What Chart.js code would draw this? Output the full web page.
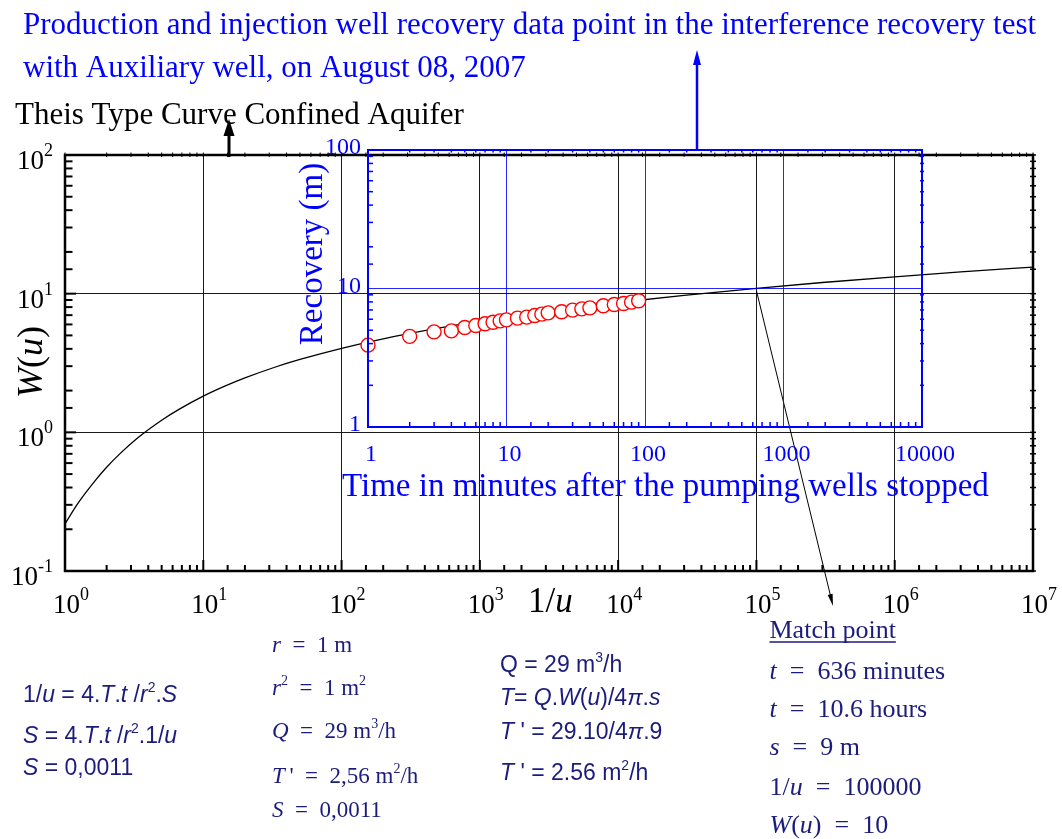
<!DOCTYPE html>
<html>
<head>
<meta charset="utf-8">
<title>Theis type curve match</title>
<script src="https://cdn.jsdelivr.net/npm/chart.js@4.4.0/dist/chart.umd.min.js"></script>
<style>
  html, body { margin: 0; padding: 0; background: #fff; }
  #wrap { position: relative; width: 1062px; height: 839px; }
  #wrap canvas { position: absolute; left: 0; top: 0; }
</style>
</head>
<body>
<div id="wrap">
  <canvas id="theis" width="1062" height="839"></canvas>
  <canvas id="recovery" width="1062" height="839"></canvas>
</div>
<script>
// Theis well function W(u) against 1/u
const invU = [1, 1.25, 1.67, 2, 2.5, 3.33, 5, 6.67, 10, 14.3, 20, 33.3, 50, 100, 200, 500,
              1000, 2000, 5000, 1e4, 3e4, 1e5, 3e5, 1e6, 3e6, 1e7];
const wu = [0.219, 0.311, 0.454, 0.560, 0.702, 0.906, 1.223, 1.464, 1.823, 2.151, 2.468, 2.959,
            3.355, 4.038, 4.726, 5.639, 6.332, 7.024, 7.940, 8.633, 9.732, 10.936, 12.035,
            13.238, 14.337, 15.541];

// recovery readings, minutes after the pumping wells stopped
const minutes = [1, 2, 3, 4, 5, 6, 7, 8, 9, 10, 12, 14, 16, 18, 20, 25, 30, 35, 40, 50, 60, 70, 80, 90];
const recovery = [3.90, 4.51, 4.86, 4.94, 5.23, 5.41, 5.56, 5.71, 5.84, 5.94, 6.11, 6.21, 6.39, 6.53,
                  6.67, 6.79, 6.98, 7.13, 7.25, 7.50, 7.67, 7.80, 7.97, 8.15];

const invUTicks = [1, 10, 100, 1e3, 1e4, 1e5, 1e6, 1e7];
const wuTicks = [0.1, 1, 10, 100];
const minuteTicks = [1, 10, 100, 1000, 10000];
const recoveryTicks = [1, 10, 100];
const matchPoint = { invU: 1e5, wu: 10 };

const titleLines = [
  'Production and injection well recovery data point in the interference recovery test',
  'with Auxiliary well, on August 08, 2007'
];
const curveTitle = 'Theis Type Curve Confined Aquifer';
const insetXTitle = 'Time in minutes after the pumping wells stopped';
const insetYTitle = 'Recovery (m)';

// *..* = italic, ^..^ = superscript
const formulaNotes = ['1/*u* = 4.*T*.*t* /*r*^2^.*S*', '*S* = 4.*T*.*t* /*r*^2^.1/*u*', '*S* = 0,0011'];
const inputNotes = ['*r*\u2002=\u20021 m', '*r*^2^\u2002=\u20021 m^2^', '*Q*\u2002=\u200229 m^3^/h',
                    '*T*\u2009\'\u2002=\u20022,56 m^2^/h', '*S*\u2002=\u20020,0011'];
const transNotes = ['Q = 29 m^3^/h', '*T*= *Q*.*W*(*u*)/4*\u03c0*.*s*', '*T* \' = 29.10/4*\u03c0*.9',
                    '*T* \' = 2.56 m^2^/h'];
const matchNotes = ['*t*\u2002=\u2002636 minutes', '*t*\u2002=\u200210.6 hours', '*s*\u2002=\u20029 m',
                    '1/*u*\u2002=\u2002100000', '*W*(*u*)\u2002=\u200210'];

const SERIF = '"Liberation Serif", "Times New Roman", serif';
const SANS = '"Liberation Sans", Arial, sans-serif';
const NAVY = '#1c1c7c';
const BLUE = '#0000ff';

function isDecade(v) {
  const l = Math.log10(v);
  return Math.abs(l - Math.round(l)) < 1e-9;
}

function seg(ctx, x0, y0, x1, y1, w) {
  ctx.lineWidth = w;
  ctx.beginPath();
  ctx.moveTo(x0, y0);
  ctx.lineTo(x1, y1);
  ctx.stroke();
}

function arrow(ctx, x0, y0, x1, y1, w, headLen, headW, color) {
  const a = Math.atan2(y1 - y0, x1 - x0);
  ctx.save();
  ctx.strokeStyle = color;
  ctx.fillStyle = color;
  seg(ctx, x0, y0, x1 - Math.cos(a) * headLen * 0.7, y1 - Math.sin(a) * headLen * 0.7, w);
  ctx.translate(x1, y1);
  ctx.rotate(a);
  ctx.beginPath();
  ctx.moveTo(0, 0);
  ctx.lineTo(-headLen, headW / 2);
  ctx.lineTo(-headLen, -headW / 2);
  ctx.closePath();
  ctx.fill();
  ctx.restore();
}

function parse(str) {
  const parts = [];
  let cur = '', it = false, sup = false;
  for (const ch of str) {
    if (ch === '*' || ch === '^') {
      if (cur) parts.push({ t: cur, i: it, sup });
      cur = '';
      if (ch === '*') it = !it; else sup = !sup;
    } else cur += ch;
  }
  if (cur) parts.push({ t: cur, i: it, sup });
  return parts;
}

function drawRich(ctx, x, y, str, size, family) {
  let cx = x;
  for (const p of parse(str)) {
    const s = p.sup ? Math.round(size * 0.62) : size;
    ctx.font = (p.i ? 'italic ' : '') + s + 'px ' + family;
    ctx.fillText(p.t, cx, p.sup ? y - size * 0.42 : y);
    cx += ctx.measureText(p.t).width;
  }
  return cx - x;
}

// "10" with a raised exponent
function drawPow(ctx, x, y, exp, align) {
  ctx.font = '27px ' + SERIF;
  const wBase = ctx.measureText('10').width;
  ctx.font = '18px ' + SERIF;
  const wExp = ctx.measureText(String(exp)).width;
  const x0 = align === 'right' ? x - wBase - wExp : x;
  ctx.textAlign = 'left';
  ctx.font = '27px ' + SERIF;
  ctx.fillText('10', x0, y);
  ctx.font = '18px ' + SERIF;
  ctx.fillText(String(exp), x0 + wBase, y - 13);
}

const theisDecor = {
  id: 'theisDecor',
  afterDraw(chart) {
    const { ctx, chartArea: a, scales: { x, y } } = chart;
    ctx.save();
    ctx.strokeStyle = '#000';
    ctx.fillStyle = '#000';

    // tick marks on all four sides
    for (const t of x.ticks) {
      const px = x.getPixelForValue(t.value);
      seg(ctx, px, a.bottom, px, a.bottom - (isDecade(t.value) ? 11 : 6), 2);
      seg(ctx, px, a.top - 2.5, px, a.top + 2, 1);
    }
    for (const t of y.ticks) {
      const py = y.getPixelForValue(t.value);
      seg(ctx, a.left, py, a.left + (isDecade(t.value) ? 11 : 7.5), py, 2);
      seg(ctx, a.right - 3, py, a.right + 3, py, 1.5);
    }
    ctx.lineWidth = 2.5;
    ctx.strokeRect(a.left, a.top, a.right - a.left, a.bottom - a.top);

    // tick labels
    ctx.textBaseline = 'alphabetic';
    for (const v of invUTicks) {
      drawPow(ctx, x.getPixelForValue(v) - 12, a.bottom + 42, Math.round(Math.log10(v)), 'left');
    }
    for (const v of wuTicks) {
      drawPow(ctx, a.left - 12, y.getPixelForValue(v) + 14, Math.round(Math.log10(v)), 'right');
    }

    // axis titles
    ctx.textAlign = 'left';
    ctx.font = '35px ' + SERIF;
    ctx.fillText('1/', 528, 612);
    const w1 = ctx.measureText('1/').width;
    ctx.font = 'italic 35px ' + SERIF;
    ctx.fillText('u', 528 + w1, 612);

    ctx.save();
    ctx.translate(42, 362);
    ctx.rotate(-Math.PI / 2);
    const parts = [['W', true], ['(', false], ['u', true], [')', false]];
    let tw = 0;
    for (const [s, it] of parts) {
      ctx.font = (it ? 'italic ' : '') + '36px ' + SERIF;
      tw += ctx.measureText(s).width;
    }
    let cx = -tw / 2;
    for (const [s, it] of parts) {
      ctx.font = (it ? 'italic ' : '') + '36px ' + SERIF;
      ctx.fillText(s, cx, 0);
      cx += ctx.measureText(s).width;
    }
    ctx.restore();

    // headings
    ctx.fillStyle = BLUE;
    ctx.font = '31px ' + SERIF;
    ctx.fillText(titleLines[0], 23, 34);
    ctx.fillText(titleLines[1], 23, 77);
    ctx.fillStyle = '#000';
    ctx.font = '31px ' + SERIF;
    ctx.fillText(curveTitle, 15, 124);

    // arrows
    arrow(ctx, 229, a.top + 2, 229, 119, 3, 17, 11, '#000');
    arrow(ctx, 697, 150, 697, 50, 2.5, 15, 8, BLUE);
    const mx = x.getPixelForValue(matchPoint.invU);
    const my = y.getPixelForValue(matchPoint.wu);
    arrow(ctx, mx, my - 3, 833, 606, 1, 12, 5, '#000');

    // notes under the chart
    ctx.fillStyle = NAVY;
    [701.5, 743, 775].forEach((b, i) => drawRich(ctx, 23, b, formulaNotes[i], 23, SANS));
    [651.5, 695, 738, 783, 816.5].forEach((b, i) => drawRich(ctx, 272, b, inputNotes[i], 23, SERIF));
    [671.5, 705, 738.5, 779.5].forEach((b, i) => drawRich(ctx, 500, b, transNotes[i], 23, SANS));

    ctx.font = '26px ' + SERIF;
    ctx.fillText('Match point', 769.5, 638);
    const mw = ctx.measureText('Match point').width;
    ctx.strokeStyle = NAVY;
    seg(ctx, 769.5, 642, 769.5 + mw, 642, 1.5);
    [678.5, 716.5, 755, 795, 833].forEach((b, i) => drawRich(ctx, 769.5, b, matchNotes[i], 26, SERIF));

    ctx.restore();
  }
};

const recoveryDecor = {
  id: 'recoveryDecor',
  afterDraw(chart) {
    const { ctx, chartArea: a, scales: { x, y } } = chart;
    ctx.save();
    ctx.strokeStyle = BLUE;
    ctx.fillStyle = BLUE;

    for (const t of x.ticks) {
      if (isDecade(t.value)) continue;
      const px = x.getPixelForValue(t.value);
      seg(ctx, px, a.bottom, px, a.bottom - 5, 1.5);
      seg(ctx, px, a.top, px, a.top + 2.5, 1.5);
    }
    for (const t of y.ticks) {
      if (isDecade(t.value)) continue;
      const py = y.getPixelForValue(t.value);
      seg(ctx, a.left, py, a.left + 5, py, 1.5);
      seg(ctx, a.right - 2, py, a.right + 2, py, 1.5);
    }
    ctx.lineWidth = 2;
    ctx.strokeRect(a.left, a.top, a.right - a.left, a.bottom - a.top);

    ctx.font = '24px ' + SERIF;
    ctx.textBaseline = 'middle';
    ctx.textAlign = 'right';
    for (const v of recoveryTicks) ctx.fillText(String(v), a.left - 7, y.getPixelForValue(v) - 2);
    ctx.textAlign = 'center';
    for (const v of minuteTicks) ctx.fillText(String(v), x.getPixelForValue(v) + 3, a.bottom + 28);

    ctx.textBaseline = 'alphabetic';
    ctx.textAlign = 'left';
    ctx.font = '33px ' + SERIF;
    ctx.fillText(insetXTitle, 342, 496);

    ctx.save();
    ctx.translate(322, 254);
    ctx.rotate(-Math.PI / 2);
    ctx.textAlign = 'center';
    ctx.font = '33px ' + SERIF;
    ctx.fillText(insetYTitle, 0, 0);
    ctx.restore();

    ctx.restore();
  }
};

function logScale(min, max, gridColor, fitSide) {
  return {
    type: 'logarithmic',
    min, max,
    ticks: { display: false },
    border: { display: false },
    grid: {
      drawTicks: false,
      lineWidth: 1,
      color: c => (c.tick && isDecade(c.tick.value)) ? gridColor : 'rgba(0,0,0,0)'
    },
    afterFit: s => { s[fitSide] = 0; }
  };
}

new Chart(document.getElementById('theis'), {
  type: 'line',
  data: {
    datasets: [{
      data: invU.map((v, i) => ({ x: v, y: wu[i] })),
      borderColor: '#000',
      borderWidth: 1.3,
      pointRadius: 0,
      cubicInterpolationMode: 'monotone',
      fill: false
    }]
  },
  options: {
    responsive: false,
    animation: false,
    events: [],
    layout: { padding: { left: 65, top: 155, right: 29, bottom: 268 } },
    plugins: { legend: { display: false }, tooltip: { enabled: false } },
    scales: {
      x: logScale(1, 1e7, '#1a1a1a', 'height'),
      y: logScale(0.1, 100, '#1a1a1a', 'width')
    }
  },
  plugins: [theisDecor]
});

const readings = minutes.map((m, i) => ({ x: m, y: recovery[i] }));

new Chart(document.getElementById('recovery'), {
  type: 'line',
  data: {
    datasets: [
      {
        data: readings,
        showLine: false,
        clip: false,
        pointRadius: 7,
        pointBorderWidth: 1.4,
        pointBorderColor: '#ff0000',
        pointBackgroundColor: '#ffffff'
      },
      {
        data: readings,
        showLine: false,
        clip: false,
        pointRadius: 1,
        pointBorderWidth: 0,
        pointBackgroundColor: '#ff0000'
      }
    ]
  },
  options: {
    responsive: false,
    animation: false,
    events: [],
    layout: { padding: { left: 368, top: 150, right: 140, bottom: 412 } },
    plugins: { legend: { display: false }, tooltip: { enabled: false } },
    scales: {
      x: logScale(1, 10000, 'rgba(0,0,255,0.85)', 'height'),
      y: logScale(1, 100, 'rgba(0,0,255,0.85)', 'width')
    }
  },
  plugins: [recoveryDecor]
});
</script>
</body>
</html>
